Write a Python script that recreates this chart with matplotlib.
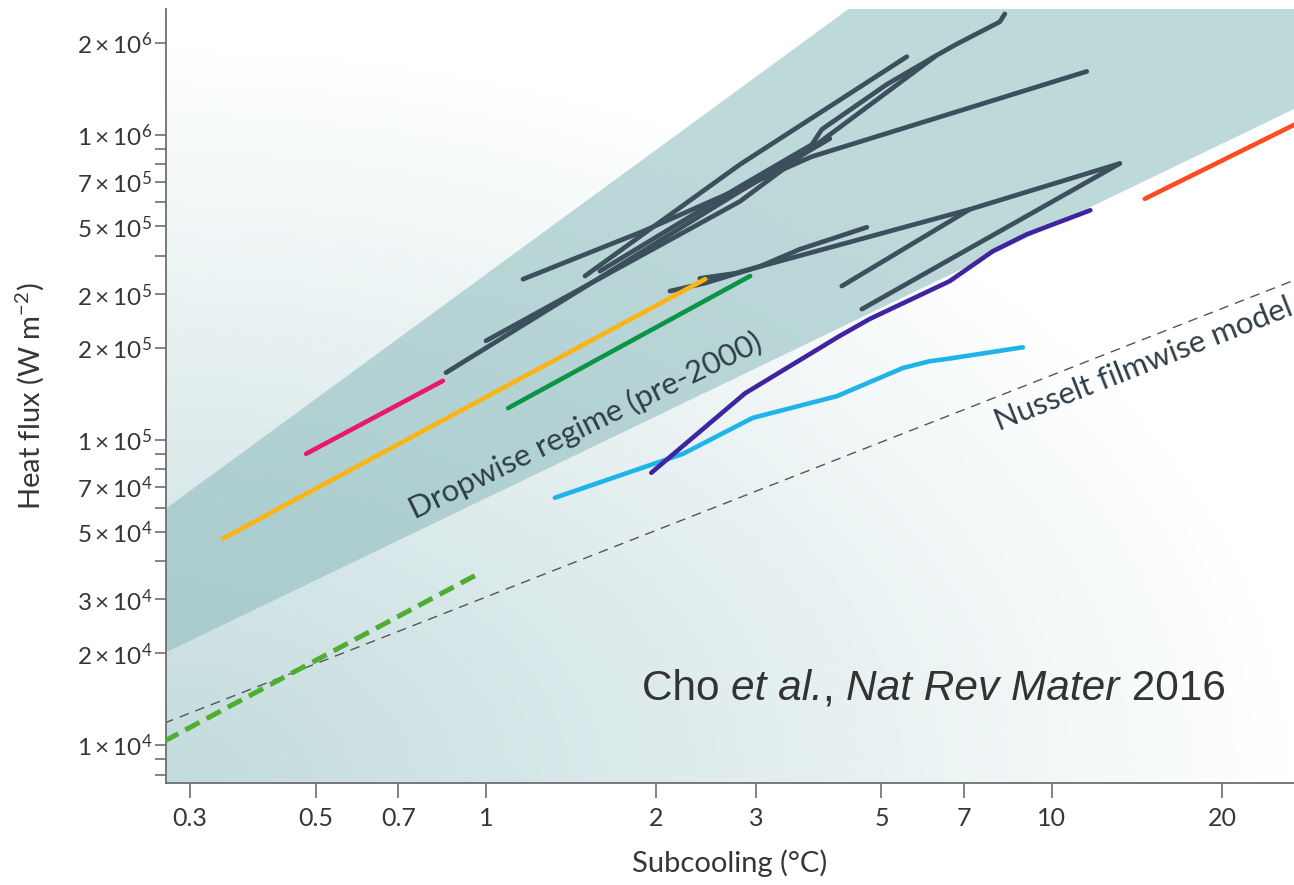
import numpy as np
import matplotlib.pyplot as plt
from matplotlib.colors import to_rgb
from matplotlib.ticker import FixedLocator, FixedFormatter, NullFormatter

plt.rcParams["font.family"] = ["Lato", "DejaVu Sans"]
plt.rcParams["mathtext.fontset"] = "custom"
plt.rcParams["mathtext.rm"] = "Lato"
plt.rcParams["mathtext.it"] = "Lato:italic"
plt.rcParams["mathtext.bf"] = "Lato:bold"

# values: subcooling (degC) vs heat flux (W m^-2)
band_x = [0.27, 0.27, 4.4, 27.0, 27.0]
band_y = [2.0e4, 5.9e4, 2.6e6, 2.6e6, 1.22e6]

nusselt_x = [0.27, 27.0]
nusselt_y = [1.18e4, 3.35e5]

pink_x = [0.481, 0.839]
pink_y = [9.0e4, 1.56e5]
orange_x = [0.343, 2.44]
orange_y = [4.75e4, 3.36e5]
green_x = [1.094, 2.93]
green_y = [1.27e5, 3.44e5]
green_dash_x = [0.27, 0.98]
green_dash_y = [1.03e4, 3.68e4]
cyan_x = [1.324, 2.23, 2.96, 4.17, 5.46, 6.09, 6.52, 8.89]
cyan_y = [6.46e4, 9.0e4, 1.18e5, 1.39e5, 1.72e5, 1.81e5, 1.84e5, 2.01e5]
purple_x = [1.96, 2.87, 4.22, 4.77, 6.6, 7.87, 9.03, 11.7]
purple_y = [7.8e4, 1.42e5, 2.19e5, 2.49e5, 3.31e5, 4.15e5, 4.71e5, 5.65e5]
red_x = [14.6, 28.0]
red_y = [6.16e5, 1.12e6]

# pre-2000 dropwise data (dark lines)
dark_x = [
    [0.850, 2.811, 4.054],
    [1.0, 2.811, 6.214],
    [1.163, 1.894, 3.767, 11.53],
    [1.496, 2.811, 5.545],
    [1.590, 2.811, 3.767, 3.923, 5.110, 6.264, 6.795, 8.093, 8.260],
    [2.114, 2.437, 3.049, 3.588, 4.711],
    [2.388, 2.754, 7.164, 13.19],
    [4.256, 7.164],
    [4.617, 13.19],
]
dark_y = [
    [1.66e5, 6.52e5, 9.70e5],
    [2.11e5, 6.04e5, 1.80e6],
    [3.36e5, 4.82e5, 8.47e5, 1.61e6],
    [3.44e5, 7.98e5, 1.80e6],
    [3.57e5, 6.76e5, 9.27e5, 1.04e6, 1.46e6, 1.82e6, 1.98e6, 2.34e6, 2.485e6],
    [3.07e5, 3.26e5, 3.70e5, 4.21e5, 4.97e5],
    [3.38e5, 3.51e5, 5.69e5, 8.04e5],
    [3.19e5, 5.69e5],
    [2.68e5, 8.04e5],
]

x_ticks = [0.3, 0.5, 0.7, 1, 2, 3, 5, 7, 10, 20]
x_labels = ["0.3", "0.5", "0.7", "1", "2", "3", "5", "7", "10", "20"]
y_ticks = [1e4, 2e4, 3e4, 5e4, 7e4, 1e5, 2e5, 3e5, 5e5, 7e5, 1e6, 2e6]
y_labels = [r"$1\times10^{4}$", r"$2\times10^{4}$", r"$3\times10^{4}$", r"$5\times10^{4}$",
            r"$7\times10^{4}$", r"$1\times10^{5}$", r"$2\times10^{5}$", r"$2\times10^{5}$",
            r"$5\times10^{5}$", r"$7\times10^{5}$", r"$1\times10^{6}$", r"$2\times10^{6}$"]
y_minor = [8e3, 9e3, 4e4, 6e4, 8e4, 9e4, 4e5, 6e5, 8e5, 9e5]

AX_POS = [0.1283, 0.1153, 0.8717, 0.8746]
TEXT = "#363636"
DARK = "#3c4f5c"

fig = plt.figure(figsize=(12.94, 8.85), dpi=100)

# soft teal wash behind everything, strongest in the lower-left corner
bg = fig.add_axes(AX_POS, zorder=0)
u = np.linspace(0, 1, 400)[None, :]
v = np.linspace(0, 1, 300)[:, None]
fade = np.clip(1 - np.sqrt(u ** 2 + (v / 0.95) ** 2), 0, 1)
img = np.zeros((300, 400, 4))
img[..., :3] = to_rgb("#c2dbdc")
img[..., 3] = fade
bg.imshow(img, extent=(0, 1, 0, 1), origin="lower", aspect="auto", interpolation="bilinear")
bg.set_axis_off()

ax = fig.add_axes(AX_POS, zorder=1)
ax.patch.set_alpha(0)
ax.set_xscale("log")
ax.set_yscale("log")

ax.fill(band_x, band_y, color="#8ababd", alpha=0.55, lw=0, zorder=1)
ax.plot(nusselt_x, nusselt_y, color="#555555", lw=1.0, ls=(0, (7, 5)), zorder=2)

for xs, ys in zip(dark_x, dark_y):
    ax.plot(xs, ys, color=DARK, lw=3.4, solid_capstyle="round", solid_joinstyle="round", zorder=3)

kw = dict(lw=3.3, solid_capstyle="round", solid_joinstyle="round", zorder=4)
ax.plot(pink_x, pink_y, color="#e8196a", **kw)
ax.plot(orange_x, orange_y, color="#fbb414", **kw)
ax.plot(green_x, green_y, color="#0b9444", **kw)
ax.plot(cyan_x, cyan_y, color="#1eb4ea", **kw)
ax.plot(purple_x, purple_y, color="#3f24a0", **kw)
ax.plot(red_x, red_y, color="#ff4b1f", **kw)
ax.plot(green_dash_x, green_dash_y, color="#4fae32", lw=3.6, ls=(0, (3.2, 1.6)), zorder=4)

ax.set_xlim(0.272, 26.8)
ax.set_ylim(7515, 2.58e6)

ax.xaxis.set_major_locator(FixedLocator(x_ticks))
ax.xaxis.set_major_formatter(FixedFormatter(x_labels))
ax.xaxis.set_minor_locator(FixedLocator([]))
ax.yaxis.set_major_locator(FixedLocator(y_ticks))
ax.yaxis.set_major_formatter(FixedFormatter(y_labels))
ax.yaxis.set_minor_locator(FixedLocator(y_minor))
ax.yaxis.set_minor_formatter(NullFormatter())

for side in ["top", "right"]:
    ax.spines[side].set_visible(False)
for side in ["left", "bottom"]:
    ax.spines[side].set_color("#6e6e6e")
    ax.spines[side].set_linewidth(1.3)

ax.tick_params(axis="y", which="both", length=8, width=1.2, color="#6e6e6e",
               pad=2, labelsize=17.5, labelcolor=TEXT)
ax.tick_params(axis="x", which="both", length=11, width=1.2, color="#6e6e6e",
               pad=6, labelsize=18, labelcolor=TEXT)

ax.set_xlabel("Subcooling (°C)", fontsize=21, color=TEXT, labelpad=14)
ax.set_ylabel(r"Heat flux (W m$^{-2}$)", fontsize=21, color=TEXT, labelpad=22)

ax.text(1.496, 1.11e5, "Dropwise regime (pre-2000)", rotation=26, rotation_mode="anchor",
        ha="center", va="center", fontsize=22.5, color="#2f3e46", zorder=5)
ax.text(14.5, 1.76e5, "Nusselt filmwise model", rotation=21.5, rotation_mode="anchor",
        ha="center", va="center", fontsize=22.5, color="#2f3e46", zorder=5)

# citation, mixed upright / italic pieces chained together
cite = dict(fontsize=30.5, family="Liberation Sans", color="#333333", va="bottom", ha="left")
t = ax.text(1.886, 1.31e4, "Cho ", **cite)
for piece, style in [("et al.", "italic"), (", ", "normal"), ("Nat Rev Mater", "italic"),
                     (" 2016", "normal")]:
    t = ax.annotate(piece, xy=(1, 0), xycoords=t, style=style, **cite)

fig.savefig("out.png", dpi=100)
